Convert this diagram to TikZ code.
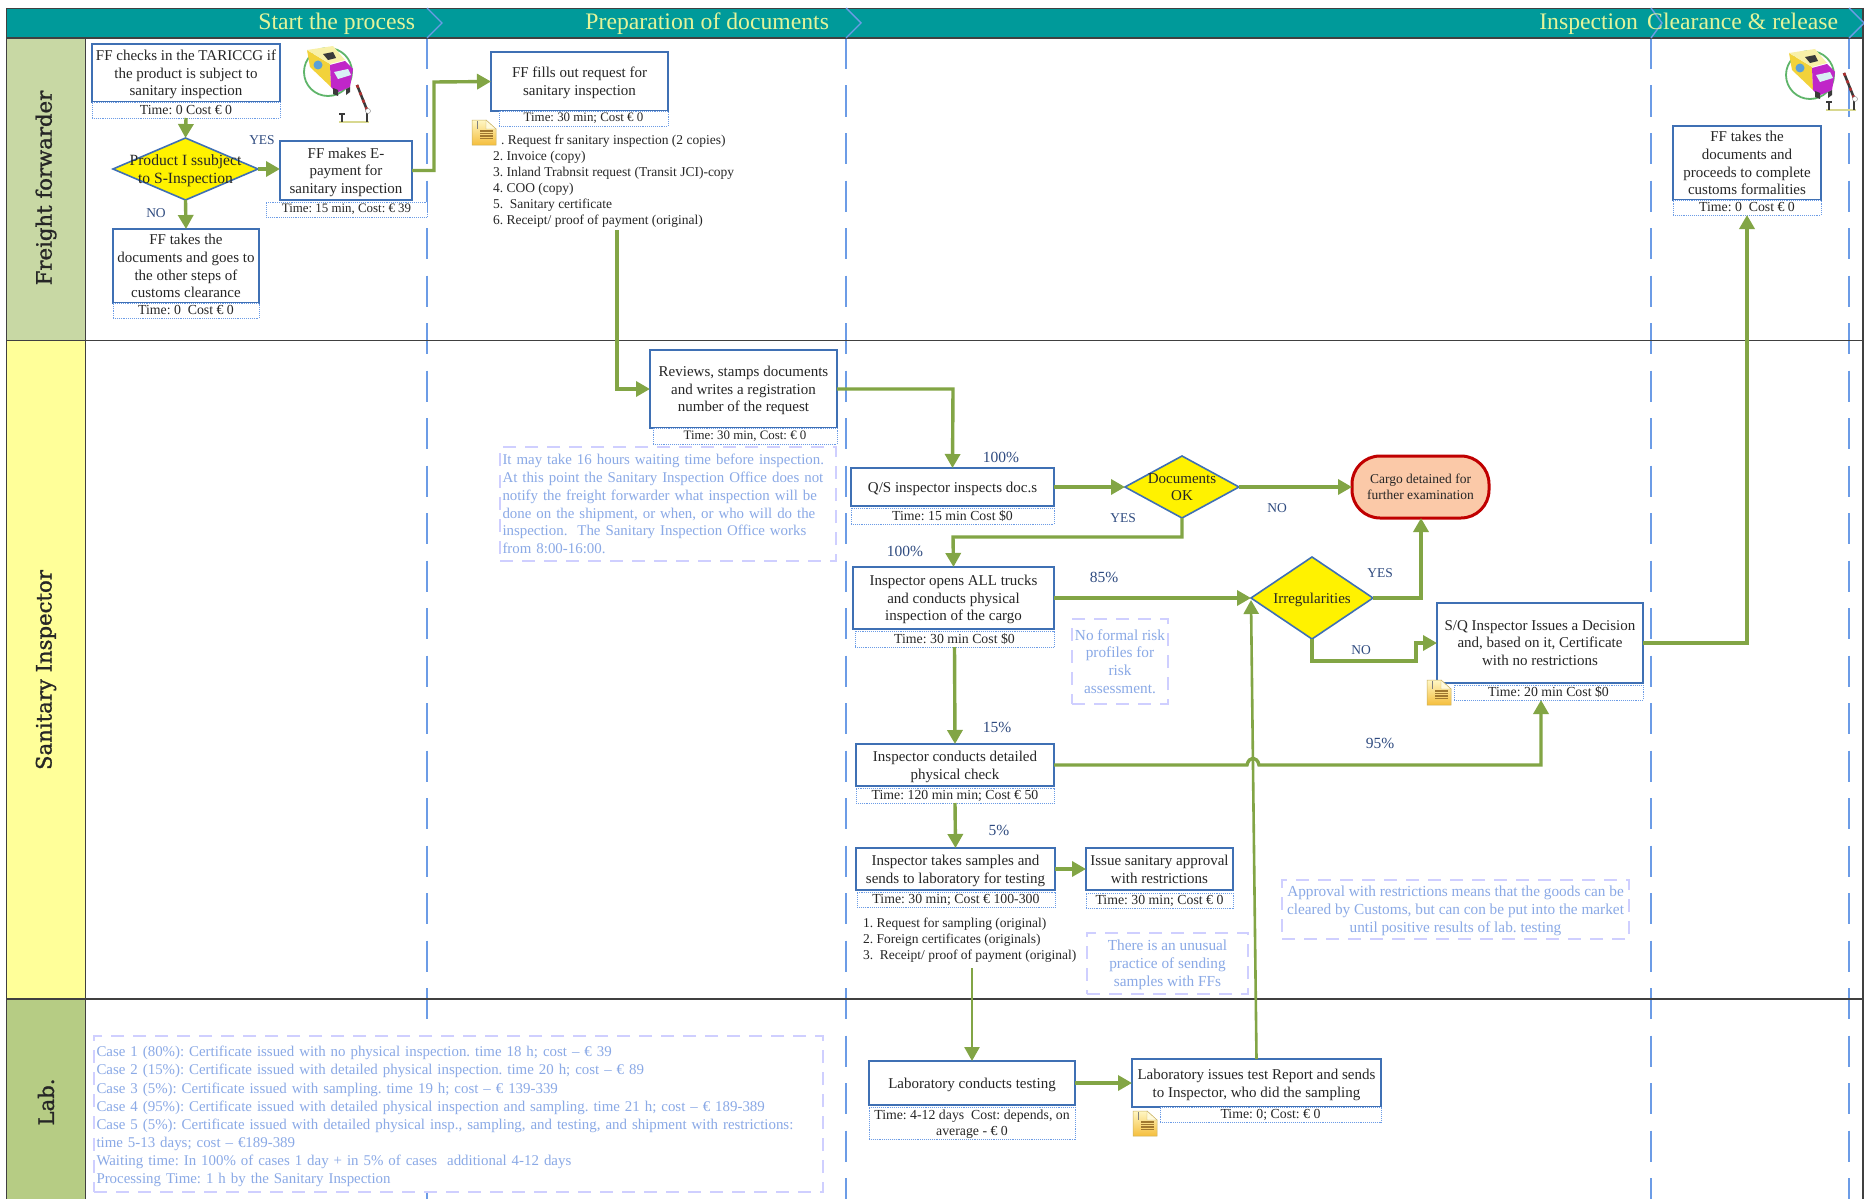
\documentclass[tikz,border=0pt]{standalone}
\usepackage{fontspec}
\setmainfont{Liberation Serif}
\newfontfamily\lanefont[FakeBold=1.2]{DejaVu Serif}
\usetikzlibrary{arrows.meta,shapes.geometric,calc}
\definecolor{teal1}{HTML}{009A9A}
\definecolor{hdtxt}{HTML}{E4F49A}
\definecolor{laneA}{HTML}{C8D8A4}
\definecolor{laneB}{HTML}{FFFF99}
\definecolor{laneC}{HTML}{B6CC84}
\definecolor{vdash}{HTML}{6C9CE6}
\definecolor{boxblue}{HTML}{3F70B4}
\definecolor{flowgreen}{HTML}{82A545}
\definecolor{notebd}{HTML}{CFCFFF}
\definecolor{notetx}{HTML}{8AA9E6}
\definecolor{lbl}{HTML}{2F4B80}
\definecolor{txt}{HTML}{262626}
\definecolor{redbd}{HTML}{C00000}
\definecolor{peach}{HTML}{FBC9A8}
\newcommand{\rn}[7]{%
  \pgfmathsetmacro{\rx}{(#3+#5)/2}\pgfmathsetmacro{\ry}{(#4+#6)/2}%
  \pgfmathsetmacro{\rw}{#5-#3}\pgfmathsetmacro{\rh}{#6-#4}\pgfmathsetmacro{\rt}{#5-#3-5}%
  \node[#2,minimum width=\rw pt,minimum height=\rh pt] (#1) at (\rx,\ry) {#7};}
\newcommand{\fs}[2]{\fontsize{#1}{#2}\selectfont}
\newcommand{\truckicon}[2]{%
  \begin{scope}[shift={(#1,#2)}]
    \draw[draw=iconring,line width=1.8pt,fill=white] (30,35) circle[radius=24];
    \fill[fill=iconyel] (9,13) -- (32,27) -- (33,50) -- (12,30) -- cycle;
    \fill[fill=iconroof] (9,13) -- (35,9) -- (47,23) -- (32,27) -- cycle;
    \fill[fill=iconemb] (20,28) circle[radius=4.5];
    \fill[fill=icondark] (25,17) -- (35,15) -- (38,21) -- (30,23) -- cycle;
    \fill[fill=iconmag] (32,28) -- (47,24) -- (55,32) -- (52,50) -- (38,56) -- (33,50) -- cycle;
    \fill[fill=iconwin] (36,35) -- (50,32) -- (53,38) -- (40,42) -- cycle;
    \fill[fill=icondark] (35,51) -- (40,53) -- (40,59) -- (35,57) -- cycle;
    \fill[fill=icondark] (48,52) -- (52,50) -- (52,55) -- (48,58) -- cycle;
  \end{scope}}
\newcommand{\barrier}[2]{%
  \begin{scope}[shift={(#1,#2)}]
    \draw[draw=iconbase,line width=1.5pt] (46,70) -- (76,70);
    \draw[draw=icondark,line width=2pt] (49,62) -- (49,70);
    \draw[draw=icondark,line width=1.5pt] (46,62) -- (52,62);
    \draw[draw=icondark,line width=2pt] (74,60) -- (74,70);
    \draw[draw=icondark,line width=2.5pt] (64,33) -- (74,58);
    \draw[draw=iconred,line width=2.5pt,dash pattern=on 3pt off 5pt] (64,33) -- (74,58);
    \fill[fill=white,draw=gray] (75,59) circle[radius=2.5];
  \end{scope}}
\newcommand{\docicon}[2]{%
  \begin{scope}[shift={(#1,#2)}]
    \shade[top color=docA,bottom color=docB,draw=docC,line width=.5pt]
      (0,0) -- (14,0) -- (24,9) -- (24,25) -- (0,25) -- cycle;
    \fill[fill=docA!60!white,draw=docC,line width=.4pt] (14,0) -- (14,9) -- (24,9) -- cycle;
    \draw[draw=gray,line width=1pt] (5,1) -- (5,9);
    \foreach \q in {11,13.5,16,18.5} \draw[draw=docL,line width=1.2pt] (8,\q) -- (21,\q);
  \end{scope}}
\definecolor{iconring}{HTML}{5FB56A}
\definecolor{iconyel}{HTML}{F2D23A}\definecolor{iconroof}{HTML}{F8F0A8}
\definecolor{iconemb}{HTML}{5AA0D8}
\definecolor{icondark}{HTML}{3A3A3A}\definecolor{iconmag}{HTML}{C026C8}
\definecolor{iconwin}{HTML}{D8F0F4}\definecolor{iconbase}{HTML}{D8D890}
\definecolor{iconred}{HTML}{B03030}
\definecolor{docA}{HTML}{FFF7C4}\definecolor{docB}{HTML}{F5BE3C}
\definecolor{docC}{HTML}{C8B060}\definecolor{docL}{HTML}{A07830}
\tikzset{
  x=1pt,y=-1pt,
  every node/.style={inner sep=0pt,outer sep=0pt},
  lane/.style={draw=black!75,line width=.8pt},
  lanetxt/.style={rotate=90,font=\lanefont\fs{21.2}{25},text=black!85},
  hdtext/.style={text=hdtxt,font=\fs{23.7}{27},anchor=base east},
  chev/.style={draw=vdash,line width=1.4pt},
  vline/.style={draw=vdash,line width=1.6pt,dash pattern=on 31pt off 16.5pt},
  boxn/.style={draw=boxblue,line width=2pt,fill=white,align=center,text=txt,font=\fs{15}{17.7},text depth=0pt},
  timen/.style={draw=vdash,line width=.9pt,densely dotted,fill=white,align=center,text=txt,font=\fs{13.8}{16}},
  timesm/.style={timen,font=\fs{12.9}{16}},
  dia/.style={diamond,draw=boxblue,line width=1.6pt,fill=yellow},
  diatxt/.style={align=center,text=black!85,font=\fs{15}{17.7},text depth=0pt},
  notebox/.style={draw=notebd,line width=1.7pt,dash pattern=on 13pt off 9pt,fill=white,text=notetx},
  noteL/.style={notebox,align=left,text width=\rt pt,font=\fs{14.9}{17.8}},
  noteC/.style={notebox,align=center,font=\fs{15.3}{17.9},text depth=0pt},
  listn/.style={align=left,anchor=west,text=txt,font=\fs{13.5}{15.9}},
  pct/.style={text=lbl,font=\fs{15.5}{18}},
  yn/.style={text=lbl,font=\fs{13.5}{16}},
  flow/.style={draw=flowgreen,line width=3.4pt,-{Triangle[length=14pt,width=15pt]}},
  flowthin/.style={draw=flowgreen,line width=2.6pt,-{Triangle[length=14pt,width=15pt]}},
}
\begin{document}
\frenchspacing
\begin{tikzpicture}
\useasboundingbox (0,0) rectangle (1864,1199);
\fill[white] (0,0) rectangle (1864,1199);
% lanes
\fill[laneA] (6,38) rectangle (85,340);
\fill[laneB] (6,340) rectangle (85,999);
\fill[laneC] (6,999) rectangle (85,1199);
\fill[teal1] (6,8) rectangle (1864,38);
% vertical phase lines
\coordinate (vA) at (427,38); \coordinate (vAe) at (427,1199);
\coordinate (vB) at (846,38); \coordinate (vBe) at (846,1199);
\coordinate (vC) at (1651,38); \coordinate (vCe) at (1651,1199);
\coordinate (vD) at (1849,38); \coordinate (vDe) at (1849,1199);
\foreach \p in {A,B,C,D} \draw[vline] (v\p) -- (v\p e);
% horizontal rules
\draw[lane] (6,8) -- (1864,8);
\draw[lane,line width=1.2pt] (6,38) -- (1864,38);
\draw[lane,line width=.9pt] (6,340) -- (1864,340);
\draw[lane,line width=1.6pt] (6,999) -- (1864,999);
\draw[lane] (6,8) -- (6,1199);
\draw[lane] (85,38) -- (85,1199);
\draw[lane,line width=1.2pt] (1863,8) -- (1863,1199);
% chevrons
\draw[chev] (427,8) -- (442,23) -- (427,38);
\draw[chev] (846,8) -- (861,23) -- (846,38);
\draw[chev] (1651,8) -- (1662,23) -- (1651,38);
\draw[chev] (1849,8) -- (1864,23) -- (1849,38);
% header
\node[hdtext] (h1) at (415,30) {Start the process};
\node[hdtext] (h2) at (829,30) {Preparation of documents};
\node[hdtext] (h3) at (1638,30) {Inspection};
\node[hdtext] (h4) at (1838,30) {Clearance \& release};
% lane titles
\node[lanetxt] (l1) at (46,188) {Freight forwarder};
\node[lanetxt] (l2) at (46,670) {Sanitary Inspector};
\node[lanetxt] (l3) at (46,1102) {Lab.};
% icons
\truckicon{298}{37}\barrier{293}{52}
\truckicon{1780}{40}\barrier{1780}{40}
% freight forwarder
\rn{chk}{boxn}{92}{44}{280}{102}{FF checks in the TARICCG if\\the product is subject to\\sanitary inspection}
\rn{chkT}{timen}{92}{102}{280}{118}{Time: 0 Cost € 0}
\rn{dP}{dia}{113}{138}{258}{200}{}
\node[diatxt,font=\fs{15.6}{17.7}] (dPt) at (dP.center) {Product I ssubject\\to S-Inspection};
\rn{pay}{boxn}{280}{141}{412}{200}{FF makes E-\\payment for\\sanitary inspection}
\rn{payT}{timesm}{266}{202}{427}{217}{Time: 15 min, Cost: € 39}
\rn{oth}{boxn}{113}{229}{259}{303}{FF takes the\\documents and goes to\\the other steps of\\customs clearance}
\rn{othT}{timen}{113}{303}{259}{318}{Time: 0~~Cost € 0}
\rn{req}{boxn}{491}{52}{668}{111}{FF fills out request for\\sanitary inspection}
\rn{reqT}{timesm}{499}{111}{668}{126}{Time: 30 min; Cost € 0}
\node[listn] (docs) at (493,181) {\hspace*{8pt}. Request fr sanitary inspection (2 copies)\\2. Invoice (copy)\\3. Inland Trabnsit request (Transit JCI)-copy\\4. COO (copy)\\5.~~Sanitary certificate\\6. Receipt/ proof of payment (original)};
\docicon{472}{120}
\rn{fin}{boxn}{1673}{126}{1821}{200}{FF takes the\\documents and\\proceeds to complete\\customs formalities}
\rn{finT}{timen}{1673}{200}{1821}{215}{Time: 0~~Cost € 0}
% sanitary
\rn{rev}{boxn}{650}{350}{837}{428}{Reviews, stamps documents\\and writes a registration\\number of the request}
\rn{revT}{timesm}{653}{428}{837}{444}{Time: 30 min, Cost: € 0}
\rn{wait}{noteL}{500}{447}{836}{561}{It may take 16 hours waiting time before inspection.\\At this point the Sanitary Inspection Office does not\\notify the freight forwarder what inspection will be\\done on the shipment, or when, or who will do the\\inspection.~~The Sanitary Inspection Office works\\from 8:00-16:00.}
\rn{qs}{boxn}{851}{468}{1054}{506}{Q/S inspector inspects doc.s}
\rn{qsT}{timen}{851}{508}{1054}{524}{Time: 15 min Cost \$0}
\rn{dD}{dia}{1125}{456}{1239}{518}{}
\node[diatxt] (dDt) at (dD.center) {Documents\\OK};
\rn{car}{draw=redbd,line width=3pt,fill=peach,rounded corners=28pt,align=center,text=txt,font=\fs{13.5}{16}}{1352}{456}{1489}{518}{Cargo detained for\\further examination}
\rn{opn}{boxn}{853}{567}{1054}{629}{Inspector opens ALL trucks\\and conducts physical\\inspection of the cargo}
\rn{opnT}{timen}{855}{631}{1054}{647}{Time: 30 min Cost \$0}
\rn{risk}{noteC}{1072}{619}{1168}{704}{No formal risk\\profiles for\\risk\\assessment.}
\rn{dI}{dia}{1251}{557}{1373}{639}{}
\node[diatxt] (dIt) at (dI.center) {Irregularities};
\rn{dec}{boxn}{1437}{603}{1643}{683}{S/Q Inspector Issues a Decision\\and, based on it, Certificate\\with no restrictions}
\rn{decT}{timen}{1454}{685}{1643}{700}{Time: 20 min Cost \$0}
\docicon{1427}{680}
\rn{det}{boxn}{856}{744}{1054}{786}{Inspector conducts detailed\\physical check}
\rn{detT}{timen}{856}{788}{1054}{803}{Time: 120 min min; Cost € 50}
\rn{smp}{boxn}{856}{848}{1055}{890}{Inspector takes samples and\\sends to laboratory for testing}
\rn{smpT}{timen}{857}{892}{1055}{907}{Time: 30 min; Cost € 100-300}
\rn{iss}{boxn}{1086}{848}{1233}{890}{Issue sanitary approval\\with restrictions}
\rn{issT}{timen}{1086}{893}{1233}{908}{Time: 30 min; Cost € 0}
\node[listn] (smpL) at (863,940) {1. Request for sampling (original)\\2. Foreign certificates (originals)\\3.~~Receipt/ proof of payment (original)};
\rn{unu}{noteC}{1087}{933}{1248}{994}{There is an unusual\\practice of sending\\samples with FFs}
\rn{app}{noteC}{1282}{880}{1629}{939}{Approval with restrictions means that the goods can be\\cleared by Customs, but can con be put into the market\\until positive results of lab. testing}
% lab
\rn{lab}{boxn}{869}{1061}{1075}{1105}{Laboratory conducts testing}
\rn{labT}{timen,text depth=0pt}{869}{1107}{1075}{1139}{Time: 4-12 days~~Cost: depends, on\\average - € 0}
\rn{rep}{boxn}{1132}{1059}{1381}{1107}{Laboratory issues test Report and sends\\to Inspector, who did the sampling}
\rn{repT}{timen}{1160}{1107}{1381}{1122}{Time: 0; Cost: € 0}
\docicon{1133}{1111}
\rn{cases}{noteL,font=\fs{14.9}{18.1}}{94}{1036}{823}{1192}{\rule{0pt}{15.5pt}Case 1 (80\%): Certificate issued with no physical inspection. time 18 h; cost – € 39\\Case 2 (15\%): Certificate issued with detailed physical inspection. time 20 h; cost – € 89\\Case 3 (5\%): Certificate issued with sampling. time 19 h; cost – € 139-339\\Case 4 (95\%): Certificate issued with detailed physical inspection and sampling. time 21 h; cost – € 189-389\\Case 5 (5\%): Certificate issued with detailed physical insp., sampling, and testing, and shipment with restrictions:\\time 5-13 days; cost – €189-389\\Waiting time: In 100\% of cases 1 day + in 5\% of cases~~additional 4-12 days\\Processing Time: 1 h by the Sanitary Inspection}
% connectors
\coordinate (jPay) at (434,82);
\coordinate (jDocs) at (617,230);
\coordinate (jRev) at (953,389);
\coordinate (jDoc) at (953,537);
\coordinate (jYes) at (1421,598);
\coordinate (jNo) at (1416,661);
\coordinate (jFin) at (1747,643);
\coordinate (bA) at (1247,765);
\coordinate (bB) at (1259,765);
\coordinate (jDet) at (1541,765);
\coordinate (jSmp) at (972,968);
\coordinate (jIrr) at (1251,600);
\draw[flow] (chkT.south) -- (dP.north);
\draw[flow] (dP.east) -- (dP.east -| pay.west);
\draw[flow] (dP.south) -- (oth.north);
\draw[flow] (pay.east) -- (jPay |- pay.east) -- (jPay) -- (req.west);
\draw[flow] (jDocs) -- (jDocs |- rev.west) -- (rev.west);
\draw[flow] (rev.east) -- (jRev) -- (qs.north);
\draw[flow] (qs.east) -- (dD.west);
\draw[flow] (dD.east) -- (car.west);
\draw[flow] (dD.south) -- (dD.south |- jDoc) -- (jDoc) -- (opn.north);
\draw[flow] (opnT.south) -- (det.north);
\draw[flow] (opn.east) -- (dI.west);
\draw[flow] (dI.east) -- (jYes) -- (car.south -| jYes);
\draw[flow] (dI.south) -- (dI.south |- jNo) -- (jNo) -- (jNo |- dec.west) -- (dec.west);
\draw[flow] (dec.east) -- (jFin) -- (finT.south);
\draw[flow] (det.east) -- (bA) .. controls +(2,-9) and +(-2,-9) .. (bB) -- (jDet) -- (decT.south -| jDet);
\draw[flow] (detT.south) -- (smp.north);
\draw[flow] (smp.east) -- (iss.west);
\draw[flowthin] (jSmp) -- (lab.north -| jSmp);
\draw[flow] (lab.east) -- (rep.west);
\draw[flowthin] (rep.north) -- (jIrr);
% labels
\node[yn] (yA) at (262,140) {YES};
\node[yn] (nA) at (156,213) {NO};
\node[pct,fill=white,inner xsep=4pt,inner ysep=5pt] (p1) at (1001,457) {100\%};
\node[pct] (p2) at (905,551) {100\%};
\node[pct] (p3) at (1104,577) {85\%};
\node[pct] (p4) at (997,727) {15\%};
\node[pct] (p5) at (999,830) {5\%};
\node[pct] (p6) at (1380,743) {95\%};
\node[yn] (yB) at (1123,518) {YES};
\node[yn] (nB) at (1277,508) {NO};
\node[yn] (yC) at (1380,573) {YES};
\node[yn,fill=white,inner xsep=3pt,inner ysep=3pt] (nC) at (1361,650) {NO};
\end{tikzpicture}
\end{document}
